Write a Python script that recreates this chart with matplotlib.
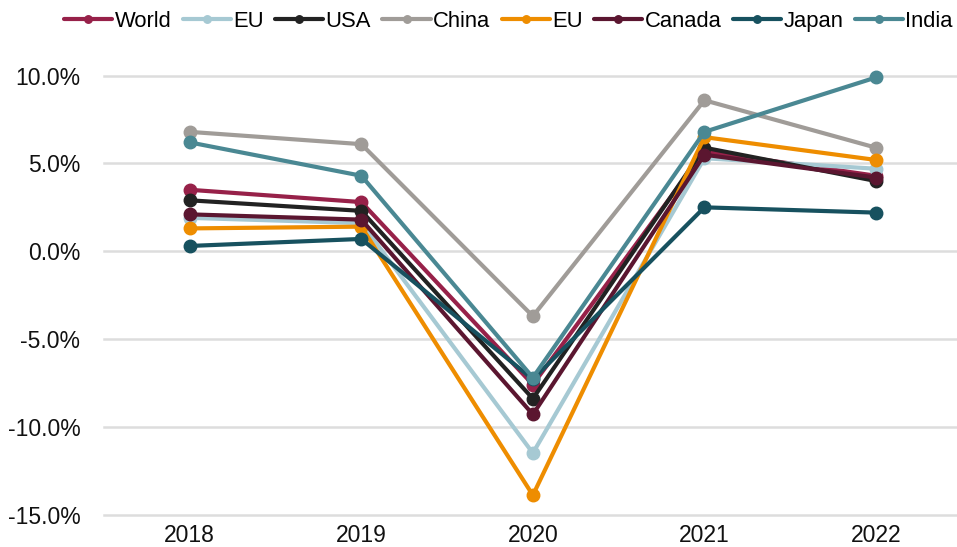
import matplotlib
matplotlib.use("Agg")
import matplotlib.pyplot as plt
from matplotlib.ticker import FuncFormatter

years = ["2018", "2019", "2020", "2021", "2022"]
series_names = ["World", "EU", "USA", "China", "EU", "Canada", "Japan", "India"]
world = [3.5, 2.8, -7.6, 5.7, 4.3]
eu_light = [1.9, 1.6, -11.5, 5.3, 4.7]
usa = [2.9, 2.3, -8.4, 5.9, 4.0]
china = [6.8, 6.1, -3.7, 8.6, 5.9]
eu_orange = [1.3, 1.4, -13.9, 6.5, 5.2]
canada = [2.1, 1.8, -9.3, 5.5, 4.2]
japan = [0.3, 0.7, -7.3, 2.5, 2.2]
india = [6.2, 4.3, -7.2, 6.8, 9.9]
series_values = [world, eu_light, usa, china, eu_orange, canada, japan, india]
colors = ["#972149", "#A6C9D3", "#222222", "#A09C98", "#EE8D00", "#5B1630", "#17515F", "#4A8893"]
yticks = [-15, -10, -5, 0, 5, 10]

plt.rcParams['font.family'] = ['Liberation Sans', 'DejaVu Sans']

fig = plt.figure(figsize=(9.57, 5.47), dpi=100)
ax = fig.add_axes([104/957, 1 - 514.5/547, (957-104)/957, (514.5-40.6)/547])

x = list(range(len(years)))
for name, vals, c in zip(series_names, series_values, colors):
    ax.plot(x, vals, color=c, lw=3.0, marker='o', ms=9, label=name, solid_capstyle='round')

ax.set_xlim(-0.5, 4.5 - (961.75 - 957) / 171.5)
ax.set_ylim(-15, 12)
ax.set_yticks(yticks)
ax.yaxis.set_major_formatter(FuncFormatter(lambda v, p: f"{v:.1f}%"))
ax.set_xticks(x)
ax.set_xticklabels(years)
ax.grid(axis='y', color='#DDDDDD', lw=1.8)
for gl in ax.get_ygridlines():
    gl.set_clip_on(False)
ax.set_axisbelow(True)
for s in ax.spines.values():
    s.set_visible(False)
ax.tick_params(axis='both', length=0, labelsize=16.5, colors='#111111')
ax.tick_params(axis='y', pad=17)
ax.tick_params(axis='x', pad=7)

handles, labels = ax.get_legend_handles_labels()
leg = fig.legend(handles, labels, loc='upper right', bbox_to_anchor=(1.0, 0.988), ncol=8,
                 frameon=False, fontsize=15.8, handlelength=2.2, handletextpad=0.1,
                 columnspacing=0.52, markerscale=0.6, borderaxespad=0.0, borderpad=0.2)

fig.savefig("out.png", dpi=100)
